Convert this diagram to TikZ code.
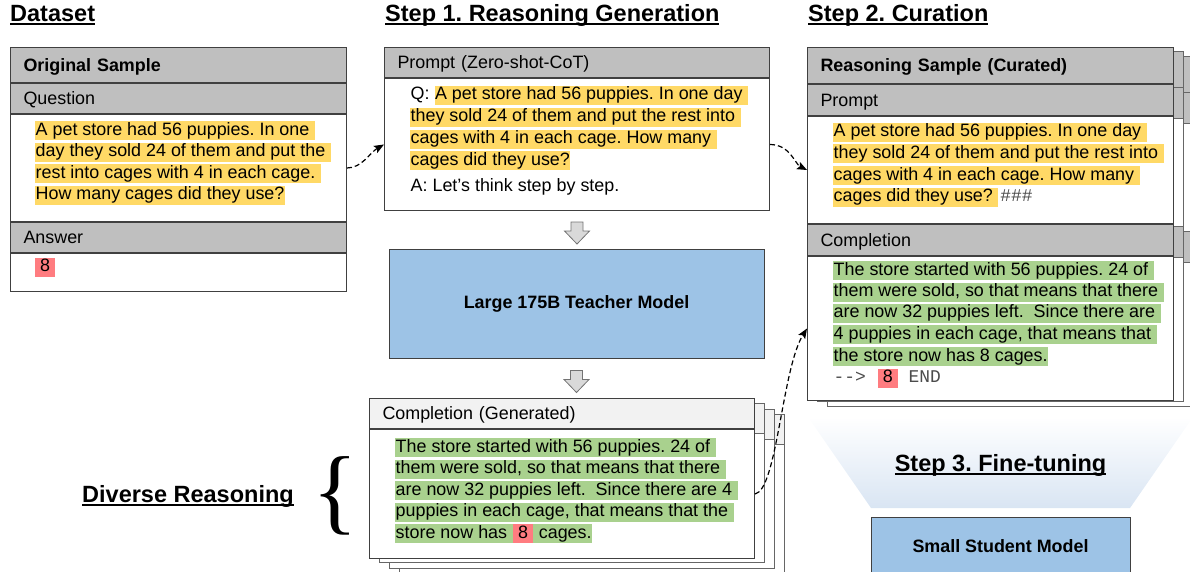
\documentclass[tikz,border=0pt]{standalone}
\usepackage{fontspec}
\setmainfont{Liberation Sans}
\newfontfamily\codefont{Liberation Mono}
\newfontfamily\bracefont{Liberation Serif}
\usetikzlibrary{positioning,calc,arrows.meta}
\frenchspacing

\definecolor{headgray}{HTML}{BFBFBF}
\definecolor{genhead}{HTML}{F2F2F2}
\definecolor{hlyellow}{HTML}{FFD966}
\definecolor{hlgreen}{HTML}{A9D18E}
\definecolor{hlred}{HTML}{FF7C80}
\definecolor{modelblue}{HTML}{9DC3E6}
\definecolor{funnelblue}{HTML}{D9E5F3}
\definecolor{cardline}{HTML}{404040}

\newcommand\bodysize{\fontsize{17.9}{21.5}\selectfont}
\newcommand\titlesize{\fontsize{23.5}{28}\selectfont\bfseries}
\newcommand\trail{\kern0.278em}
\newlength\ulwidth
\newcommand\ultext[1]{\settowidth\ulwidth{#1}#1\llap{\rule[-3.5pt]{\ulwidth}{2pt}}}

\begin{document}
\begin{tikzpicture}[x=1pt, y=-1pt, font=\bodysize,
	titletext/.style={font=\titlesize, anchor=base west, inner sep=0pt},
	row/.style={draw=cardline, line width=1pt, fill=headgray, inner xsep=13pt, inner ysep=0pt, align=left, text depth=0pt},
	body/.style={draw=cardline, line width=1pt, fill=white, inner sep=0pt},
	backcard/.style={draw=black!60, line width=1pt, fill=white},
	ln/.style={anchor=west, inner xsep=0.5pt, inner ysep=0.5pt, text height=13.5pt, text depth=4.5pt},
	hly/.style={ln, fill=hlyellow},
	hlg/.style={ln, fill=hlgreen},
	hlr/.style={ln, fill=hlred, inner xsep=5pt},
	code/.style={ln, font=\codefont\bodysize, text=black!70},
	model/.style={draw=cardline, line width=1pt, fill=modelblue, font=\bodysize\bfseries},
	blockarrow/.style={draw=black!55, fill=black!15, line width=0.8pt, line join=miter},
	flow/.style={line width=1.2pt, dash pattern=on 5pt off 3pt, -{Stealth[length=10pt,width=8pt,inset=2pt]}}]

	\useasboundingbox (0,0) rectangle (1190,572);

	% titles
	\node[titletext] (tdata) at (10,22) {\ultext{Dataset}};
	\node[titletext] (tstep1) at (385,22) {\ultext{Step 1. Reasoning Generation}};
	\node[titletext] (tstep2) at (808,22) {\ultext{Step 2. Curation}};

	% original sample
	\node[row, anchor=north west, minimum height=35pt, text width=310pt] (oh) at (10,47) {\textbf{Original Sample}};
	\node[row, below=0pt of oh, minimum height=30pt, text width=310pt] (oq) {Question};
	\node[body, below=0pt of oq, minimum width=336pt, minimum height=107pt] (ob) {};
	\node[row, below=0pt of ob, minimum height=30pt, text width=310pt] (oa) {Answer};
	\node[body, below=0pt of oa, minimum width=336pt, minimum height=38pt] (oab) {};

	\node[hly] (o1) at (35,131) {A pet store had 56 puppies. In one\trail};
	\node[hly] (o2) at (35,152.5) {day they sold 24 of them and put the\trail};
	\node[hly] (o3) at (35,174) {rest into cages with 4 in each cage.\trail};
	\node[hly] (o4) at (35,195.5) {How many cages did they use?};
	\node[hlr] (o8) at (35,267) {8};

	% prompt
	\node[row, anchor=north west, minimum height=30pt, text width=359pt] (ph) at (384,47) {Prompt (Zero-shot-CoT)};
	\node[body, below=0pt of ph, minimum width=385pt, minimum height=132pt] (pb) {};

	\node[ln] (q1) at (410,95.5) {Q:};
	\node[hly, right=4pt of q1] (q1b) {A pet store had 56 puppies. In one day\trail};
	\node[hly] (q2) at (410,117.5) {they sold 24 of them and put the rest into\trail};
	\node[hly] (q3) at (410,139.5) {cages with 4 in each cage. How many\trail};
	\node[hly] (q4) at (410,161) {cages did they use?};
	\node[ln] (qa) at (410,186.5) {A: Let’s think step by step.};

	% teacher
	\draw[blockarrow] ($(pb.south)+(0,11)$) -- ++(6,0) -- ++(0,9) -- ++(6.5,0) -- ++(-12.5,13) -- ++(-12.5,-13) -- ++(6.5,0) -- ++(0,-9) -- cycle;
	\node[model, minimum width=375pt, minimum height=109pt] (teacher) at (576.5,303.5) {Large 175B Teacher Model};
	\draw[blockarrow] ($(teacher.south)+(0,12)$) -- ++(6,0) -- ++(0,9) -- ++(6.5,0) -- ++(-12.5,13) -- ++(-12.5,-13) -- ++(6.5,0) -- ++(0,-9) -- cycle;

	% generated stack
	\filldraw[backcard] (399,414.5) rectangle (784,573.5);
	\filldraw[backcard, fill=genhead] (399,414.5) rectangle (784,444.5);
	\filldraw[backcard] (389,409) rectangle (774,568);
	\filldraw[backcard, fill=genhead] (389,409) rectangle (774,439);
	\filldraw[backcard] (379,403.5) rectangle (764,562.5);
	\filldraw[backcard, fill=genhead] (379,403.5) rectangle (764,433.5);

	\node[row, fill=genhead, anchor=north west, minimum height=30pt, text width=359pt] (gh) at (369,398) {Completion (Generated)};
	\node[body, below=0pt of gh, minimum width=385pt, minimum height=129pt] (gb) {};

	\node[hlg] (g1) at (395,447.5) {The store started with 56 puppies. 24 of\trail};
	\node[hlg] (g2) at (395,469) {them were sold, so that means that there\trail};
	\node[hlg] (g3) at (395,490.5) {are now 32 puppies left.\ \ Since there are 4\trail};
	\node[hlg] (g4) at (395,512) {puppies in each cage, that means that the\trail};
	\node[hlg] (g5) at (395,533.5) {store now has\trail};
	\node[hlr, right=0pt of g5] (g5b) {8};
	\node[hlg, right=0pt of g5b] (g5c) {\trail cages.};

	% diverse reasoning
	\node[titletext, anchor=base] (tdiverse) at (188,502) {\ultext{Diverse Reasoning}};
	\node[inner sep=0pt, font=\bracefont\fontsize{95}{95}\selectfont] (brace) at (335,496) {\{};

	% curated stack
	\filldraw[backcard] (827,57) rectangle (1193,406);
	\filldraw[backcard, fill=headgray] (827,57) rectangle (1193,124);
	\draw[backcard] (827,93) -- (1193,93);
	\filldraw[backcard, fill=headgray] (827,231) rectangle (1193,262);
	\filldraw[backcard] (817,52) rectangle (1183,401);
	\filldraw[backcard, fill=headgray] (817,52) rectangle (1183,119);
	\draw[backcard] (817,88) -- (1183,88);
	\filldraw[backcard, fill=headgray] (817,226) rectangle (1183,257);

	\node[row, anchor=north west, minimum height=36pt, text width=340pt] (ch) at (807,47) {\textbf{Reasoning Sample (Curated)}};
	\node[row, below=0pt of ch, minimum height=31pt, text width=340pt] (cp) {Prompt};
	\node[body, below=0pt of cp, minimum width=366pt, minimum height=107pt] (cb) {};
	\node[row, below=0pt of cb, minimum height=31pt, text width=340pt] (cc) {Completion};
	\node[body, below=0pt of cc, minimum width=366pt, minimum height=144pt] (cd) {};

	\node[hly] (c1) at (833,132.5) {A pet store had 56 puppies. In one day\trail};
	\node[hly] (c2) at (833,154) {they sold 24 of them and put the rest into\trail};
	\node[hly] (c3) at (833,175.5) {cages with 4 in each cage. How many\trail};
	\node[hly] (c4) at (833,197) {cages did they use?\trail};
	\node[code, right=1pt of c4] (c4b) {\#\#\#};

	\node[hlg] (d1) at (833,270.5) {The store started with 56 puppies. 24 of\trail};
	\node[hlg] (d2) at (833,292) {them were sold, so that means that there\trail};
	\node[hlg] (d3) at (833,313) {are now 32 puppies left.\ \ Since there are\trail};
	\node[hlg] (d4) at (833,334.5) {4 puppies in each cage, that means that\trail};
	\node[hlg] (d5) at (833,356.5) {the store now has 8 cages.};
	\node[code] (d6) at (833,378) {-\kern0pt-\kern0pt>};
	\node[hlr, right=11pt of d6] (d6b) {8};
	\node[code, right=10pt of d6b] (d6c) {END};

	% fine-tuning
	\shade[top color=white, bottom color=funnelblue] (808,417) -- (1193,417) -- (1130,508) -- (871,508) -- cycle;
	\node[titletext, anchor=base] (tstep3) at (1000.5,471) {\ultext{Step 3. Fine-tuning}};
	\node[model, minimum width=259pt, minimum height=58pt] (student) at (1000.5,546) {Small Student Model};

	% dashed links
	\draw[flow] (ob.east) .. controls +(15,0) and +(-14,8) .. (pb.west);
	\draw[flow] (pb.east) .. controls +(20,0) and +(-12,-6) .. (cb.west);
	\draw[flow] (gb.east) .. controls +(22,-4) and +(-25,40) .. (cd.west);

\end{tikzpicture}
\end{document}
